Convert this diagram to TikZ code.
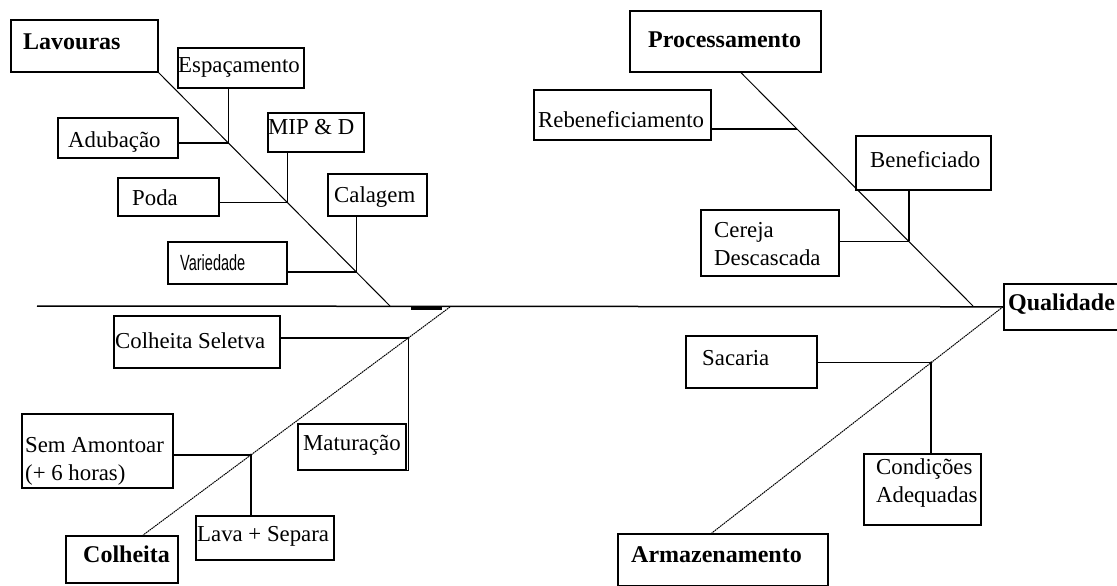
\documentclass[tikz,border=0pt]{standalone}
\usepackage{fontspec}
\usepackage{graphicx}
\setmainfont{Liberation Serif}
\setsansfont{Liberation Sans}
\usetikzlibrary{calc}
\tikzset{
  box/.style 2 args={draw, line width=1.6pt, inner sep=0pt, anchor=north west,
    minimum width=#1, minimum height=#2},
  txt/.style={inner sep=0pt, anchor=base west, font=\fontsize{22.8pt}{27pt}\selectfont},
  btxt/.style={inner sep=0pt, anchor=base west, font=\fontsize{24pt}{28pt}\selectfont\bfseries},
  conn/.style={line width=1.5pt},
  bone/.style={line width=1pt},
  dbone/.style={line width=1pt, dash pattern=on 1.6pt off 0.7pt},
  spine/.style={line width=1.5pt},
  jdot/.style={circle, fill, inner sep=0pt, minimum size=2.8pt}
}
\begin{document}
\begin{tikzpicture}[x=1pt,y=-1pt]
\useasboundingbox[fill=white] (0,0) rectangle (1117,586);

% ---- boxes ----
\node[box={147pt}{52pt}] (lav) at (10,19) {};
\node[box={126pt}{40pt}] (esp) at (177,47) {};
\node[box={120pt}{40pt}] (adub) at (57,117) {};
\node[box={96pt}{39pt}] (mip) at (267,112) {};
\node[box={101pt}{38pt}] (poda) at (117,177) {};
\node[box={99pt}{42pt}] (cal) at (327,173) {};
\node[box={119pt}{42pt}] (var) at (167,241) {};
\node[box={191pt}{61pt}] (proc) at (629,10) {};
\node[box={177pt}{50pt}] (reb) at (533,89) {};
\node[box={135pt}{54pt}] (ben) at (855,135) {};
\node[box={138pt}{66pt}] (cer) at (700,209) {};
\node[box={125pt}{46pt}] (qual) at (1003,283) {};
\node[box={131pt}{52pt}] (sac) at (685,335) {};
\node[box={117pt}{71pt}] (cond) at (863,453) {};
\node[box={210pt}{52pt}] (arm) at (617,533) {};
\node[box={166pt}{52pt}] (cs) at (113,315) {};
\node[box={151pt}{74pt}] (sem) at (21,413) {};
\node[box={108pt}{46pt}] (mat) at (297,423) {};
\node[box={138pt}{44pt}] (lava) at (195,515) {};
\node[box={112pt}{47pt}] (col) at (65,535) {};

% ---- texts ----
\node[btxt] (lavT) at (23,50) {Lavouras};
\node[txt] (espT) at (178,73) {Espaçamento};
\node[txt] (adubT) at (68,147) {Adubação};
\node[txt] (mipT) at (268,135) {MIP \& D};
\node[txt] (podaT) at (132,205) {Poda};
\node[txt] (calT) at (334,202) {Calagem};
\node[inner sep=0pt, anchor=base west] (varT) at (180,270)
  {\scalebox{0.66}[1]{\fontsize{22pt}{26pt}\selectfont\sffamily Variedade}};
\node[btxt] (procT) at (648,48) {Processamento};
\node[txt] (rebT) at (538,127) {Rebeneficiamento};
\node[txt] (benT) at (870,167) {Beneficiado};
\node[txt] (cerT1) at (714,237) {Cereja};
\node[txt] (cerT2) at (714,265) {Descascada};
\node[btxt] (qualT) at (1008,310) {Qualidade};
\node[txt] (sacT) at (702,365) {Sacaria};
\node[txt] (condT1) at (876,474) {Condições};
\node[txt] (condT2) at (876,502) {Adequadas};
\node[btxt] (armT) at (631,562) {Armazenamento};
\node[txt] (csT) at (115,348) {Colheita Seletva};
\node[txt] (semT1) at (25,452) {Sem Amontoar};
\node[txt] (semT2) at (25,480) {(+ 6 horas)};
\node[txt] (matT) at (303,450) {Maturação};
\node[txt] (lavaT) at (197,541) {Lava + Separa};
\node[btxt] (colT) at (83,562) {Colheita};

% ---- spine ----
\coordinate (spS) at (37,306);
\draw[spine] (spS) -- (qual.west);
\coordinate (thkA) at (411,308.5);
\coordinate (thkB) at (442,308.5);
\draw[line width=2.8pt] (thkA) -- (thkB);

% ---- Lavouras bone ----
\coordinate (lavE) at (390,306);
\draw[bone] (lav.south east) -- (lavE);
\coordinate (jesp) at ($(lav.south east)!{(142-71)/235}!(lavE)$);
\coordinate (jmip) at ($(lav.south east)!{(202-71)/235}!(lavE)$);
\coordinate (jcal) at ($(lav.south east)!{(272-71)/235}!(lavE)$);
\draw[conn] (jesp |- esp.south) -- (jesp);
\draw[conn] (adub.east |- jesp) -- (jesp);
\draw[conn] (jmip |- mip.south) -- (jmip);
\draw[conn] (poda.east |- jmip) -- (jmip);
\draw[conn] (jcal |- cal.south) -- (jcal);
\draw[conn] (var.east |- jcal) -- (jcal);

% ---- Processamento bone ----
\coordinate (procS) at ($(proc.south west)!0.581!(proc.south east)$);
\coordinate (procE) at (973,306);
\draw[bone] (procS) -- (procE);
\coordinate (jreb) at ($(procS)!{(128-71)/235}!(procE)$);
\coordinate (jben) at ($(procS)!{(241-71)/235}!(procE)$);
\draw[conn] (reb.east |- jreb) -- (jreb);
\draw[conn] (jben |- ben.south) -- (jben);
\draw[conn] (cer.east |- jben) -- (jben);

% ---- Armazenamento bone ----
\coordinate (armS) at ($(arm.north west)!0.448!(arm.north east)$);
\draw[dbone] (qual.west) -- (armS);
\coordinate (jsac) at ($(qual.west)!{(362-306)/227}!(armS)$);
\draw[conn] (sac.east |- jsac) -- (jsac);
\draw[conn] (jsac) -- (jsac |- cond.north);
\node[jdot] (dsac) at (jsac) {};

% ---- Colheita bone ----
\coordinate (colE) at (450,307);
\coordinate (colS) at ($(col.north west)!0.688!(col.north east)$);
\draw[dbone] (colE) -- (colS);
\coordinate (jcs) at ($(colE)!{(338-307)/228}!(colS)$);
\coordinate (jsem) at ($(colE)!{(455-307)/228}!(colS)$);
\draw[conn] (cs.east |- jcs) -- (jcs);
\draw[conn] (jcs) -- (jcs |- mat.south) -- (mat.south east);
\draw[conn] (sem.east |- jsem) -- (jsem);
\draw[conn] (jsem) -- (jsem |- lava.north);
\node[jdot] (dcs) at (jcs) {};
\node[jdot] (dsem) at (jsem) {};
\end{tikzpicture}
\end{document}
